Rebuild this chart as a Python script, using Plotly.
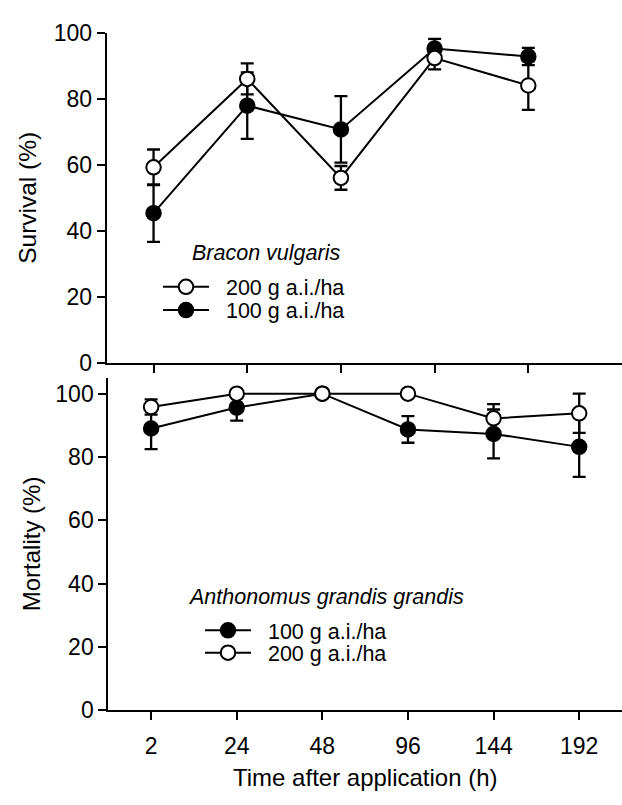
import plotly.graph_objects as go

# ---------------- data ----------------
top_times = ["2", "24", "48", "96", "144"]
bv_200 = [59.3, 86.1, 56.1, 92.4, 84.1]
bv_200_err = [5.4, 4.7, 3.6, 3.4, 7.4]
bv_100 = [45.4, 78.0, 70.8, 95.3, 92.9]
bv_100_err = [8.7, 10.1, 10.1, 2.9, 2.6]

bot_times = ["2", "24", "48", "96", "144", "192"]
ag_100 = [89.0, 95.6, 100.0, 88.7, 87.3, 83.2]
ag_100_err = [6.5, 4.1, 0.0, 4.2, 7.7, 9.5]
ag_200 = [95.8, 100.0, 100.0, 100.0, 92.2, 93.8]
ag_200_err = [2.4, 0.0, 0.0, 0.0, 4.5, 6.2]

y_ticks = [0, 20, 40, 60, 80, 100]
label_100 = "100 g a.i./ha"
label_200 = "200 g a.i./ha"

W, H = 622, 805
FONT = "Arial, Liberation Sans, sans-serif"
GAP = "\u00a0\u00a0"


def px_x(p):
    return p / W


def px_y(p):
    return 1 - p / H


def trace(x, y, err, filled, name, xa, ya, legend):
    return go.Scatter(
        x=x, y=y, name=GAP + name, mode="lines+markers",
        xaxis=xa, yaxis=ya, legend=legend,
        line=dict(color="black", width=2),
        marker=dict(size=14.5, symbol="circle",
                    color="black" if filled else "white",
                    line=dict(color="black", width=2)),
        error_y=dict(type="data", array=err, visible=True,
                     color="black", thickness=2.3, width=6.5),
    )


fig = go.Figure()
fig.add_trace(trace(top_times, bv_100, bv_100_err, True, label_100, "x", "y", "legend2"))
fig.add_trace(trace(top_times, bv_200, bv_200_err, False, label_200, "x", "y", "legend"))
fig.add_trace(trace(bot_times, ag_100, ag_100_err, True, label_100, "x2", "y2", "legend3"))
fig.add_trace(trace(bot_times, ag_200, ag_200_err, False, label_200, "x2", "y2", "legend4"))

axis_common = dict(
    showline=True, linecolor="black", linewidth=2,
    ticks="outside", ticklen=8, tickwidth=2, tickcolor="black",
    showgrid=False, zeroline=False,
    tickfont=dict(family=FONT, size=23, color="black"),
)


def leg(xp, yp):
    return dict(x=px_x(xp), y=px_y(yp), xanchor="left", yanchor="middle",
                bgcolor="rgba(0,0,0,0)",
                font=dict(family=FONT, size=21.5, color="black"),
                itemwidth=46)


fig.update_layout(
    width=W, height=H,
    margin=dict(l=0, r=0, t=0, b=0),
    paper_bgcolor="white", plot_bgcolor="white",
    font=dict(family=FONT, color="black"),
    xaxis=dict(domain=[px_x(106.7), 1], anchor="y", type="category",
               categoryorder="array", categoryarray=top_times,
               range=[-0.5, 5.0], showticklabels=False, **axis_common),
    yaxis=dict(domain=[px_y(361.7), px_y(20.7)], anchor="x",
               range=[0, 100], tickvals=y_ticks, **axis_common),
    xaxis2=dict(domain=[px_x(108.3), 1], anchor="y2", type="category",
                categoryorder="array", categoryarray=bot_times,
                range=[-0.5, 5.5], ticklabelstandoff=6, **axis_common),
    yaxis2=dict(domain=[px_y(720.7), px_y(377)], anchor="x2",
                range=[0, 105], tickvals=y_ticks, **axis_common),
    legend=leg(158, 283),
    legend2=leg(158, 307),
    legend3=leg(200, 638),
    legend4=leg(200, 661),
    showlegend=True,
)

annots = [
    dict(text="<i>Bracon vulgaris</i>", x=px_x(190), y=px_y(248),
         xanchor="left", yanchor="middle", font=dict(size=21.5)),
    dict(text="<i>Anthonomus grandis grandis</i>", x=px_x(185.5), y=px_y(603),
         xanchor="left", yanchor="middle", font=dict(size=21.5)),
    dict(text="Survival (%)", x=px_x(28), y=px_y(191), textangle=-90,
         xanchor="center", yanchor="middle", font=dict(size=24.5)),
    dict(text="Mortality (%)", x=px_x(31), y=px_y(549), textangle=-90,
         xanchor="center", yanchor="middle", font=dict(size=24)),
    dict(text="Time after application (h)", x=px_x(365), y=px_y(790),
         xanchor="center", yanchor="middle", font=dict(size=24)),
]
for a in annots:
    a.update(xref="paper", yref="paper", showarrow=False)
    a["font"].update(family=FONT, color="black")
    fig.add_annotation(**a)

fig.write_html("out.html")
